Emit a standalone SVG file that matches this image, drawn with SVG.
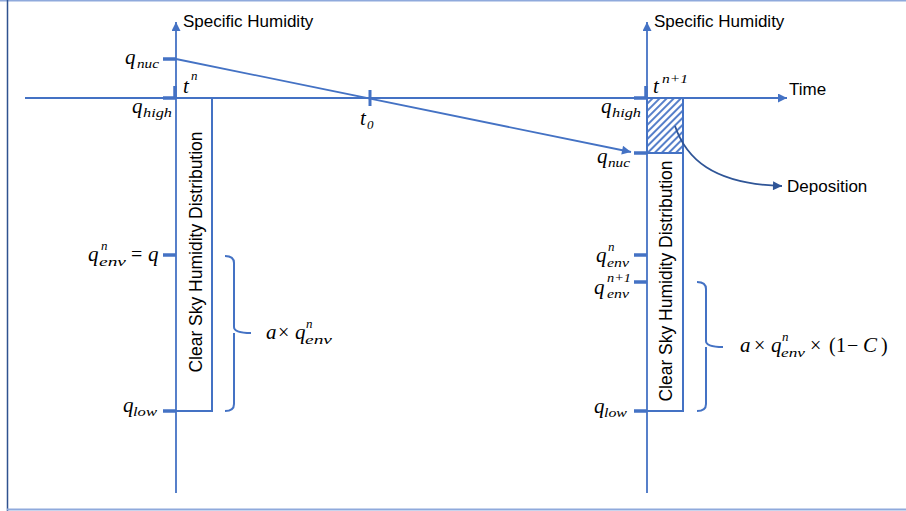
<svg xmlns="http://www.w3.org/2000/svg" width="906" height="511" viewBox="0 0 906 511">
<style>
.ax{stroke:#4472C4;stroke-width:1.8;fill:none}
.bx{stroke:#4472C4;stroke-width:2;fill:none}
.tk{stroke:#4472C4;stroke-width:3.5;fill:none}
.br{stroke:#4472C4;stroke-width:2;fill:none}
.lb{font-family:"Liberation Sans",Arial,sans-serif;font-size:17px;fill:#000}
.m{font-family:"Liberation Serif","Times New Roman",serif;font-style:italic;font-size:21px;fill:#000}
.s{font-family:"Liberation Serif","Times New Roman",serif;font-style:italic;font-size:13px;fill:#000}
.u{font-family:"Liberation Serif","Times New Roman",serif;font-size:20px;fill:#000}
</style>
<defs>
<marker id="ah" viewBox="0 0 10 10" refX="10" refY="5" markerWidth="10" markerHeight="9" markerUnits="userSpaceOnUse" orient="auto">
<path d="M0,0 L10,5 L0,10 z" fill="#4472C4"/>
</marker>
<marker id="ahd" viewBox="0 0 10 10" refX="10" refY="5" markerWidth="10" markerHeight="9" markerUnits="userSpaceOnUse" orient="auto">
<path d="M0,0 L10,5 L0,10 z" fill="#2F5597"/>
</marker>
<pattern id="hatch" width="5" height="5" patternUnits="userSpaceOnUse" patternTransform="rotate(45)">
<line x1="1" y1="0" x2="1" y2="5" stroke="#4472C4" stroke-width="1.8"/>
</pattern>
</defs>

<g id="frame">
<line x1="0" y1="0.75" x2="906" y2="0.75" stroke="#8FAADC" stroke-width="1.5"/>
<line x1="7.5" y1="0" x2="7.5" y2="511" stroke="#2F528F" stroke-width="1.5"/>
<line x1="7" y1="509.5" x2="906" y2="509.5" stroke="#8FAADC" stroke-width="2"/>
</g>

<g id="axes">
<line class="ax" x1="25" y1="98" x2="787" y2="98" marker-end="url(#ah)"/>
<line class="ax" x1="176" y1="493" x2="176" y2="22" marker-end="url(#ah)"/>
<line class="ax" x1="647" y1="493" x2="647" y2="22" marker-end="url(#ah)"/>
<text class="lb" x="183" y="27">Specific Humidity</text>
<text class="lb" x="654" y="27">Specific Humidity</text>
<text class="lb" x="789" y="95">Time</text>
</g>

<g id="ticks">
<line class="tk" x1="163" y1="59" x2="176" y2="59"/>
<line class="tk" x1="163" y1="98" x2="176" y2="98"/>
<line class="tk" x1="175" y1="86" x2="175" y2="98"/>
<line class="tk" x1="163" y1="255" x2="176" y2="255"/>
<line class="tk" x1="163" y1="411" x2="176" y2="411"/>
<line class="tk" x1="370" y1="90" x2="370" y2="106" style="stroke-width:3"/>
<line class="tk" x1="634" y1="98" x2="647" y2="98"/>
<line class="tk" x1="646" y1="86" x2="646" y2="98"/>
<line class="tk" x1="634" y1="153" x2="647" y2="153"/>
<line class="tk" x1="634" y1="255" x2="647" y2="255"/>
<line class="tk" x1="634" y1="282" x2="647" y2="282"/>
<line class="tk" x1="634" y1="411" x2="647" y2="411"/>
</g>

<g id="box-left">
<polyline class="bx" points="176,98 212,98 212,411 176,411"/>
<text class="lb" transform="translate(202,252) rotate(-90)" text-anchor="middle" style="font-size:17.5px">Clear Sky Humidity Distribution</text>
</g>

<g id="box-right">
<rect x="647" y="98" width="36" height="55" class="bx" style="fill:url(#hatch)"/>
<polyline class="bx" points="647,153 683,153 683,411 647,411"/>
<text class="lb" transform="translate(672,281) rotate(-90)" text-anchor="middle" style="font-size:17.5px">Clear Sky Humidity Distribution</text>
</g>

<g id="brace-left">
<path class="br" d="M225,256 Q234,256 234,263 L234,327 Q234,333 251,333 M234,333 Q234,339 234,341 L234,404 Q234,411 225,411"/>
<text class="m" x="266" y="339">a</text>
<text class="u" x="278" y="339">×</text>
<text class="m" x="295" y="339">q</text>
<text class="s" x="306" y="328">n</text>
<text class="s" x="305" y="344" textLength="27" lengthAdjust="spacingAndGlyphs">env</text>
</g>

<g id="brace-right">
<path class="br" d="M697,282 Q706,282 706,289 L706,341 Q706,347 723,347 M706,347 L706,404 Q706,411 697,411"/>
<text class="m" x="740" y="352">a</text>
<text class="u" x="754" y="352">×</text>
<text class="m" x="771" y="352">q</text>
<text class="s" x="782" y="341">n</text>
<text class="s" x="781" y="357" textLength="24" lengthAdjust="spacingAndGlyphs">env</text>
<text class="u" x="810" y="352">×</text>
<text class="u" x="829" y="352">(</text>
<text class="u" x="836" y="352">1</text>
<text class="u" x="847" y="352">−</text>
<text class="m" x="863" y="352">C</text>
<text class="u" x="881" y="352">)</text>
</g>

<g id="labels-left">
<text class="m" x="125" y="64">q</text>
<text class="s" x="137" y="68" textLength="22" lengthAdjust="spacingAndGlyphs">nuc</text>
<text class="m" x="132" y="113">q</text>
<text class="s" x="143" y="117" textLength="29" lengthAdjust="spacingAndGlyphs">high</text>
<text class="m" x="183" y="93">t</text>
<text class="s" x="191" y="80">n</text>
<text class="m" x="88" y="261">q</text>
<text class="s" x="101" y="250">n</text>
<text class="s" x="99" y="266" textLength="27" lengthAdjust="spacingAndGlyphs">env</text>
<text class="u" x="131" y="261">=</text>
<text class="m" x="148" y="261">q</text>
<text class="m" x="123" y="412">q</text>
<text class="s" x="133" y="416" textLength="24" lengthAdjust="spacingAndGlyphs">low</text>
<text class="m" x="360" y="125">t</text>
<text class="s" x="367" y="129">0</text>
</g>

<g id="labels-right">
<text class="m" x="601" y="113">q</text>
<text class="s" x="612" y="117" textLength="29" lengthAdjust="spacingAndGlyphs">high</text>
<text class="m" x="597" y="163">q</text>
<text class="s" x="608" y="167" textLength="22" lengthAdjust="spacingAndGlyphs">nuc</text>
<text class="m" x="653" y="93">t</text>
<text class="s" x="662" y="83" textLength="26" lengthAdjust="spacingAndGlyphs">n+1</text>
<text class="m" x="596" y="262">q</text>
<text class="s" x="608" y="251">n</text>
<text class="s" x="607" y="267" textLength="22" lengthAdjust="spacingAndGlyphs">env</text>
<text class="m" x="594" y="294">q</text>
<text class="s" x="607" y="282" textLength="24" lengthAdjust="spacingAndGlyphs">n+1</text>
<text class="s" x="607" y="298" textLength="22" lengthAdjust="spacingAndGlyphs">env</text>
<text class="m" x="594" y="413">q</text>
<text class="s" x="604" y="417" textLength="23" lengthAdjust="spacingAndGlyphs">low</text>
<text class="lb" x="787" y="192">Deposition</text>
</g>

<g id="connectors">
<line x1="176" y1="59" x2="631" y2="152" stroke="#4472C4" stroke-width="1.8" marker-end="url(#ah)"/>
<path d="M675,126 C686,158 712,184 782,186" fill="none" stroke="#2F5597" stroke-width="1.8" marker-end="url(#ahd)"/>
</g>
</svg>
